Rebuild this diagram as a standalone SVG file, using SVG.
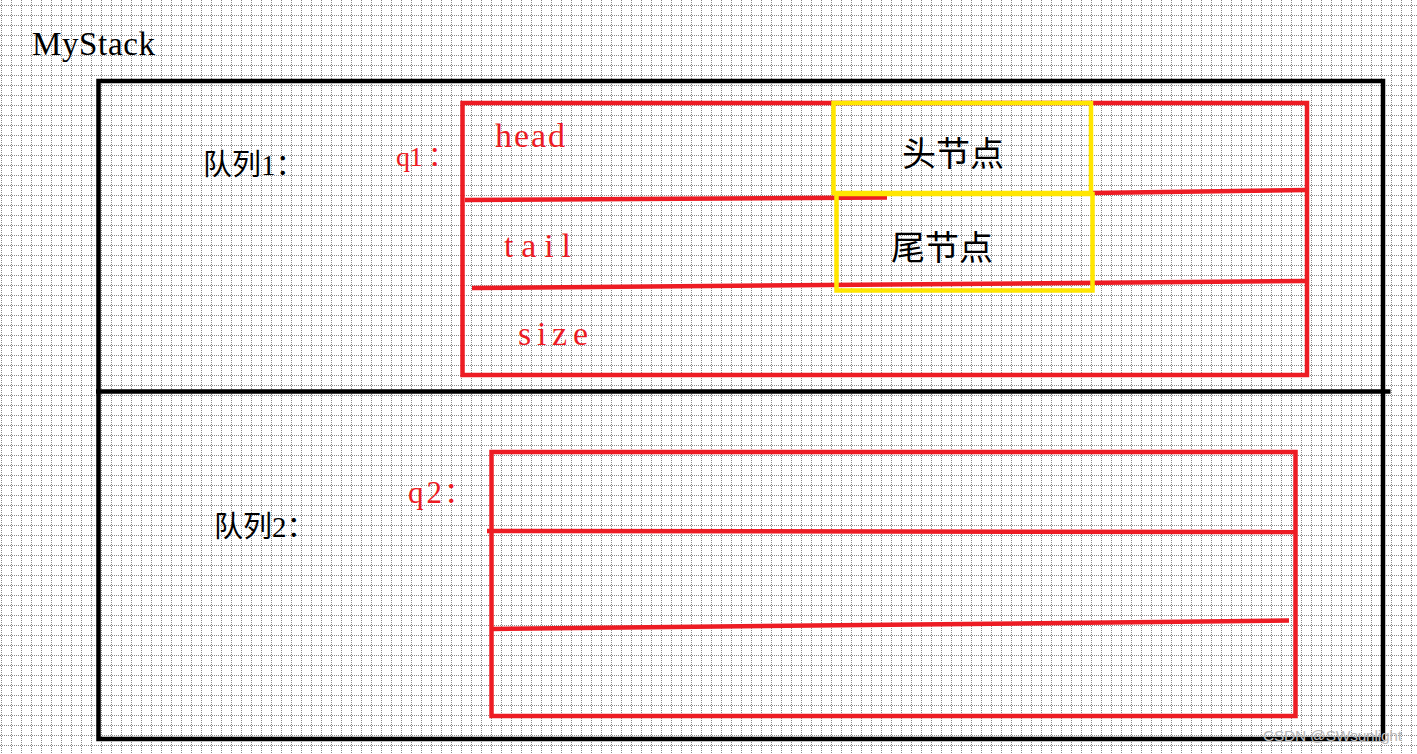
<svg xmlns="http://www.w3.org/2000/svg" width="1417" height="754" viewBox="0 0 1417 754">
<defs>
<pattern id="grid" width="10" height="10" patternUnits="userSpaceOnUse">
<path d="M1.5 0V10M0 5.5H10" stroke="#8a8a8a" stroke-width="1" stroke-dasharray="1 1" fill="none"/>
</pattern>
</defs>
<style>
.blk{fill:none;stroke:#000;stroke-width:4.5}
.red{fill:none;stroke:#ED1C24;stroke-width:4.5}
.ylw{fill:none;stroke:#FFE600;stroke-width:4.5}
.lat{font-family:"Liberation Serif","Noto Sans CJK SC",serif}
.cjk{font-family:"Liberation Serif","Noto Sans CJK SC",serif}
.rt{fill:#ED1C24}
.bt{fill:#000}
</style>
<rect x="0" y="0" width="1417" height="754" fill="#fff"/>
<rect x="0" y="0" width="1417" height="754" fill="url(#grid)"/>

<g id="mystack">
<text class="lat bt" x="32" y="55" font-size="33" textLength="123" lengthAdjust="spacing">MyStack</text>
<path class="blk" d="M98.5 81H1383V739H98.5Z"/>
<path class="blk" d="M96 391.5H1390.5"/>
</g>

<g id="label-queue1">
<text class="cjk bt" x="203" y="175" font-size="29">队列<tspan>1</tspan>：</text>
</g>
<g id="label-queue2">
<text class="cjk bt" x="214" y="537" font-size="29">队列<tspan>2</tspan>：</text>
</g>

<g id="q1">
<text class="lat rt" x="396" y="166" font-size="28" textLength="27" lengthAdjust="spacing">q1</text>
<text class="cjk rt" x="428" y="166" font-size="27">：</text>
<rect class="red" x="462.5" y="103" width="844.5" height="272"/>
<path class="red" d="M465 200L887 197.5"/>
<path class="red" d="M1092 193L1307 190"/>
<path class="red" d="M472 288L1307 281"/>
<text class="lat rt" x="495" y="147" font-size="34" textLength="70" lengthAdjust="spacing">head</text>
<text class="lat rt" x="504" y="257" font-size="34" textLength="67" lengthAdjust="spacing">tail</text>
<text class="lat rt" x="518" y="345" font-size="34" textLength="70" lengthAdjust="spacing">size</text>
</g>

<g id="head-node">
<rect class="ylw" x="833.5" y="103" width="257.5" height="90"/>
<text class="cjk bt" x="902" y="166" font-size="34">头节点</text>
</g>
<g id="tail-node">
<rect class="ylw" x="836.5" y="194" width="256" height="96.5"/>
<text class="cjk bt" x="891" y="260" font-size="34">尾节点</text>
</g>

<g id="q2">
<text class="lat rt" x="408" y="503" font-size="31" textLength="34" lengthAdjust="spacing">q2</text>
<text class="cjk rt" x="444" y="503" font-size="29">：</text>
<rect class="red" x="491.5" y="452" width="804" height="264"/>
<path class="red" d="M487 531L1297 532"/>
<path class="red" d="M492 629L1289 620.5"/>
</g>

<g id="watermark">
<text x="1263" y="741" font-family="Liberation Sans, Arial, sans-serif" font-size="15.5" fill="#b8b8b8" textLength="139" lengthAdjust="spacing">CSDN @SWsunlight</text>
</g>
</svg>
